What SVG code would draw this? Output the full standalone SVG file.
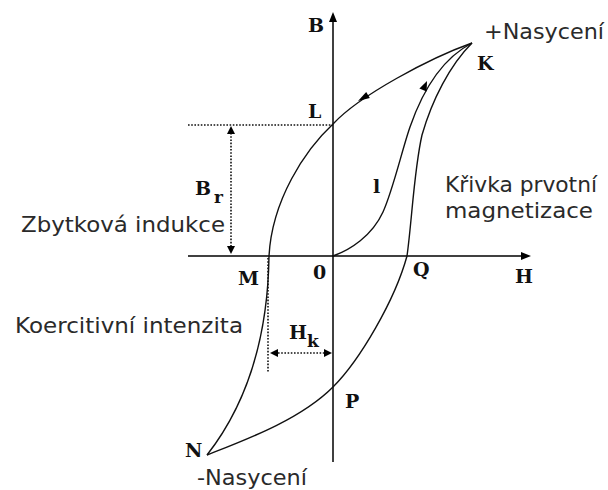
<svg xmlns="http://www.w3.org/2000/svg" width="608" height="490" viewBox="0 0 608 490">
<style>
.ax{stroke:#000;stroke-width:1.5;fill:none}
.cv{stroke:#111;stroke-width:1.4;fill:none}
.dt{stroke:#111;stroke-width:1.6;fill:none;stroke-dasharray:1.6 1.6}
.ah{fill:#000}
.lb{font-family:"DejaVu Serif","Liberation Serif",serif;font-weight:bold;font-size:19px;fill:#111}
.sb{font-family:"DejaVu Serif","Liberation Serif",serif;font-weight:bold;font-size:17px;fill:#111}
.tx{font-family:"DejaVu Sans","Verdana",sans-serif;font-size:21px;fill:#2a2a2a}
</style>
<rect width="608" height="490" fill="#fff"/>
<g id="axes">
<line class="ax" x1="333" y1="20" x2="333" y2="462"/>
<polygon class="ah" points="333,12 329,22 337,22"/>
<line class="ax" x1="188" y1="256" x2="523" y2="256"/>
<polygon class="ah" points="531,256 521,252 521,260"/>
</g>
<g id="connectors">
<path id="descending" class="cv" d="M472,43 C430,58 360,95 333,124 C305,150 272,200 269,256 C268,330 250,400 207,455"/>
<path id="ascending" class="cv" d="M207,455 C245,440 300,420 333,387 C360,360 395,300 407,256 C412,220 414,170 422,135 C432,100 450,65 472,43"/>
<path id="initial" class="cv" d="M333,256 C350,250 372,236 383,212 C393,190 402,150 410,127 C418,104 435,62 472,43"/>
<polygon class="ah" points="427,81 426.6,91.6 419.4,88.4"/>
<polygon class="ah" points="358,101 369.8,98 366.2,92"/>
<line class="dt" x1="188" y1="125" x2="333" y2="125"/>
<line class="dt" x1="231" y1="133" x2="231" y2="247"/>
<polygon class="ah" points="231,126 227,134 235,134"/>
<polygon class="ah" points="231,254 227,246 235,246"/>
<line class="dt" x1="268" y1="258" x2="268" y2="372"/>
<line class="dt" x1="278" y1="353" x2="324" y2="353"/>
<polygon class="ah" points="270,353 278,349 278,357"/>
<polygon class="ah" points="332,353 324,349 324,357"/>
</g>
<g id="labels">
<text class="lb" x="308" y="32">B</text>
<text class="lb" x="308" y="118">L</text>
<text class="lb" x="477" y="70">K</text>
<text class="lb" x="373" y="193">l</text>
<text class="lb" x="238" y="285">M</text>
<text class="lb" x="313" y="279">0</text>
<text class="lb" x="413" y="276">Q</text>
<text class="lb" x="515" y="283">H</text>
<text class="lb" x="345" y="408">P</text>
<text class="lb" x="185" y="457">N</text>
<g id="Br"><text class="lb" x="195" y="195">B</text><text class="sb" x="214" y="203">r</text></g>
<g id="Hk"><text class="lb" x="289" y="339">H</text><text class="sb" x="307" y="347">k</text></g>
<text class="tx" x="484" y="39" textLength="120" lengthAdjust="spacingAndGlyphs">+Nasycení</text>
<text class="tx" x="445" y="192" textLength="152" lengthAdjust="spacingAndGlyphs">Křivka prvotní</text>
<text class="tx" x="445" y="218" textLength="148" lengthAdjust="spacingAndGlyphs">magnetizace</text>
<text class="tx" x="21" y="232" textLength="204" lengthAdjust="spacingAndGlyphs">Zbytková indukce</text>
<text class="tx" x="15" y="333" textLength="228" lengthAdjust="spacingAndGlyphs">Koercitivní intenzita</text>
<text class="tx" x="197" y="485" textLength="110" lengthAdjust="spacingAndGlyphs">-Nasycení</text>
</g>
</svg>
